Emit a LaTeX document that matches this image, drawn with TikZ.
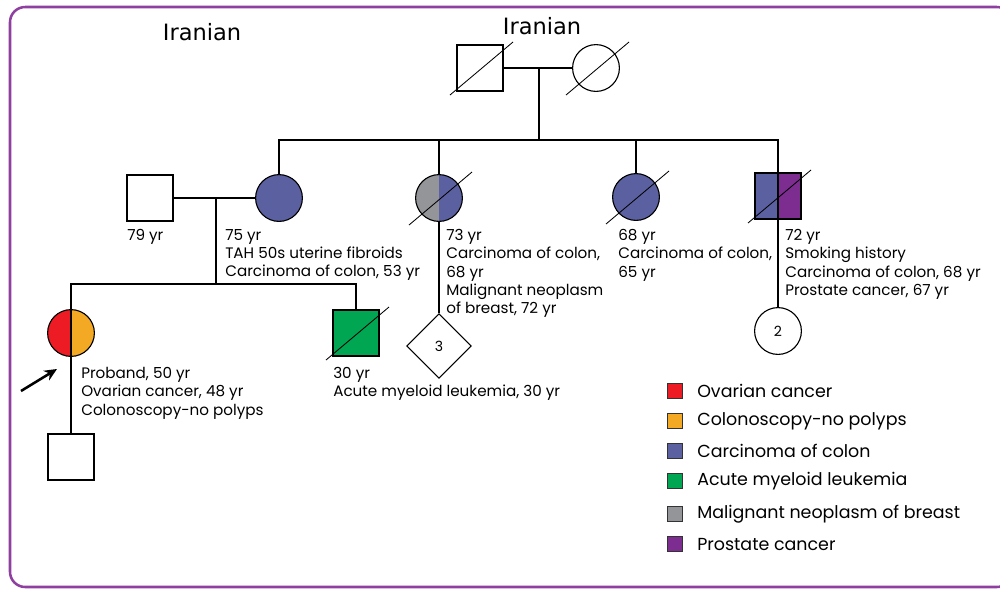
\documentclass[tikz,border=0pt]{standalone}
\usepackage{fontspec}
\setmainfont{Poppins}
\newfontfamily\titlefont{DejaVu Sans}
\usetikzlibrary{shapes.geometric, arrows.meta}

\definecolor{ovarian}{HTML}{ED1C24}
\definecolor{colonoscopy}{HTML}{F3A923}
\definecolor{colon}{HTML}{5B61A0}
\definecolor{aml}{HTML}{00A651}
\definecolor{breast}{HTML}{939598}
\definecolor{prostate}{HTML}{7D2C8F}
\definecolor{frame}{HTML}{8E3FA0}

\tikzset{
  male/.style={draw, line width=0.8pt, minimum size=1.15cm, inner sep=0},
  female/.style={circle, draw, line width=0.8pt, minimum size=1.17cm, inner sep=0},
  halves/.style 2 args={path picture={
    \fill[#1] (path picture bounding box.south west) rectangle (path picture bounding box.north);
    \fill[#2] (path picture bounding box.south) rectangle (path picture bounding box.north east);}},
  link/.style={line width=2pt},
  info/.style={anchor=north west, inner sep=0, align=left, font=\fontsize{10.8}{13}\selectfont},
  key/.style={draw=black!80, line width=0.6pt, minimum size=0.38cm, inner sep=0},
}

\newcommand{\deceased}[1]{\draw[line width=0.6pt] ([shift={(-30,27)}]#1.center) -- ([shift={(33,-26)}]#1.center);}

\begin{document}
\begin{tikzpicture}[x=0.025cm, y=-0.025cm]
\useasboundingbox (0,0) rectangle (1000,588);
\clip (0,0) rectangle (1000,588);
\draw[frame, line width=1.8pt, rounded corners=0.38cm] (10,7) rectangle (1012,587);

% ethnicity
\node[font=\titlefont\fontsize{16}{19}\selectfont] (eth1) at (202,32.5) {Iranian};
\node[font=\titlefont\fontsize{16}{19}\selectfont] (eth2) at (542,26.5) {Iranian};

% generation I
\node[male] (gf) at (480,68) {};
\node[female] (gm) at (596,68) {};

% generation II
\node[male] (sp) at (150,198) {};
\node[female, fill=colon] (c1) at (279,198) {};
\node[female, halves={breast}{colon}] (c2) at (439,198) {};
\node[female, fill=colon] (c3) at (636,197) {};
\node[male, halves={colon}{prostate}] (c4) at (778,196) {};

% generation III
\node[female, halves={ovarian}{colonoscopy}] (pb) at (71,333) {};
\node[male, fill=aml] (bro) at (356,333) {};
\node[diamond, draw, line width=0.8pt, minimum size=1.62cm, inner sep=0, font=\fontsize{10}{12}\selectfont] (n3) at (439,346) {3};
\node[female, font=\fontsize{10}{12}\selectfont] (n2) at (778,331) {2};

% generation IV
\node[male] (son) at (71,457) {};

% lines of descent
\coordinate (m1) at (539,68);
\coordinate (s1) at (539,140);
\coordinate (m2) at (216,198);
\coordinate (s2) at (216,284);
\draw[link] (gf) -- (gm);
\draw[link] (m1) -- (s1);
\draw[link] (c1.north) |- (c4.north |- s1) -- (c4.north);
\draw[link] (c2.north) -- (c2.north |- s1);
\draw[link] (c3.north) -- (c3.north |- s1);
\draw[link] (sp) -- (c1);
\draw[link] (m2) -- (s2);
\draw[link] (pb.north) |- (bro.north |- s2) -- (bro.north);
\draw[link] (pb.north) -- (son.north);
\draw[link] (c2.south) -- (n3.north);
\draw[link] (c4.north) -- (n2.north);

\deceased{gf}
\deceased{gm}
\deceased{c2}
\deceased{c3}
\deceased{c4}
\deceased{bro}

% proband arrow
\coordinate (arrtail) at (21,391);
\draw[line width=1.8pt, -{Stealth[length=9pt, width=8pt]}] (arrtail) -- ([shift={(-14,36)}]pb.center);

% notes
\node[info] (t79) at (127,229) {79 yr};
\node[info] (t75) at (225,229) {75 yr\\TAH 50s uterine fibroids\\Carcinoma of colon, 53 yr};
\node[info] (t73) at (446,229) {73 yr\\Carcinoma of colon,\\68 yr\\Malignant neoplasm\\of breast, 72 yr};
\node[info] (t68) at (618,229) {68 yr\\Carcinoma of colon,\\65 yr};
\node[info] (t72) at (785,229) {72 yr\\Smoking history\\Carcinoma of colon, 68 yr\\Prostate cancer, 67 yr};
\node[info] (tpb) at (81,367) {Proband, 50 yr\\Ovarian cancer, 48 yr\\Colonoscopy-no polyps};
\node[info] (t30) at (333,367) {30 yr\\Acute myeloid leukemia, 30 yr};

% legend
\foreach \col/\txt/\ypos in {ovarian/Ovarian cancer/391, colonoscopy/Colonoscopy-no polyps/421,
    colon/Carcinoma of colon/451, aml/Acute myeloid leukemia/481,
    breast/Malignant neoplasm of breast/514, prostate/Prostate cancer/544} {
  \node[key, fill=\col] (key\col) at (675,\ypos) {};
  \node[anchor=west, inner sep=0, font=\fontsize{12.4}{15}\selectfont] (lbl\col) at (697,\ypos) {\txt};
}
\end{tikzpicture}
\end{document}
